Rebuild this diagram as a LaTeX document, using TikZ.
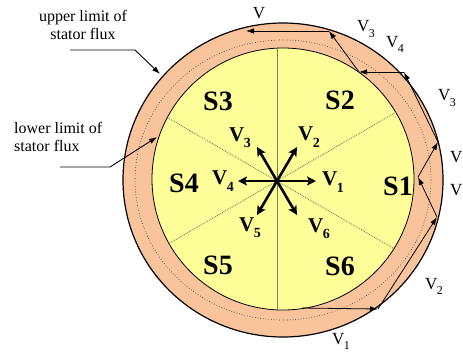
\documentclass[tikz,border=0pt]{standalone}
\usepackage{fontspec}
\setmainfont{Liberation Serif}
\usetikzlibrary{arrows.meta}
\definecolor{band}{RGB}{249,196,155}
\definecolor{disk}{RGB}{255,255,153}
\definecolor{sect}{RGB}{125,125,95}
\newcommand\VO[1]{V\kern-0.3pt\raisebox{-0.3em}{\fontsize{12}{12}\selectfont #1}}
\newcommand\VC[1]{V\kern-0.3pt\raisebox{-0.3em}{\fontsize{14}{14}\selectfont\bfseries #1}}
\tikzset{
  vec/.style={line width=2.6pt, -{Stealth[length=9pt,width=9pt,inset=2pt]}},
  traj/.style={line width=0.8pt, -{Latex[length=8pt,width=5.5pt]}},
  note/.style={line width=0.9pt, -{Latex[length=8pt,width=5.5pt]}},
  seclab/.style={font=\fontsize{28}{28}\selectfont\bfseries, inner sep=0pt},
  veclab/.style={font=\fontsize{21}{21}\selectfont\bfseries, inner sep=0pt},
  outlab/.style={font=\fontsize{17}{17}\selectfont, inner sep=0pt},
  annot/.style={font=\fontsize{16}{18}\selectfont, inner sep=0pt},
}
\begin{document}
\begin{tikzpicture}[x=1pt,y=-1pt]
\useasboundingbox (0,0) rectangle (463,351);
% rings
\filldraw[fill=band, draw=black, line width=1.2pt] (283,180) ellipse [x radius=160, y radius=157];
\draw[dotted, line width=0.7pt, black!70] (283,180) ellipse [x radius=148, y radius=140];
\filldraw[fill=disk, draw=black, line width=0.8pt] (283,179) circle [radius=131];
% sectors
\coordinate (O) at (277,181);
\begin{scope}
\clip (283,179) circle [radius=131];
\draw[sect, line width=0.7pt] (277,40) -- (277,320);
\draw[sect, densely dotted, line width=0.9pt] (O) -- (450,81);
\draw[sect, densely dotted, line width=0.9pt] (O) -- (450,281);
\draw[sect, densely dotted, line width=0.9pt] (O) -- (104,81);
\draw[sect, densely dotted, line width=0.9pt] (O) -- (104,281);
\end{scope}
% voltage vectors
\coordinate (t1) at (316,181);
\coordinate (t2) at (297,147);
\coordinate (t3) at (257,147);
\coordinate (t4) at (238,181);
\coordinate (t5) at (257,215);
\coordinate (t6) at (297,215);
\foreach \t in {t1,t2,t3,t4,t5,t6} \draw[vec] (O) -- (\t);
\node[veclab] (v1) at (333,182) {\VC{1}};
\node[veclab] (v2) at (309,137) {\VC{2}};
\node[veclab] (v3) at (240,138) {\VC{3}};
\node[veclab] (v4) at (223,181) {\VC{4}};
\node[veclab] (v5) at (250,228) {\VC{5}};
\node[veclab] (v6) at (319,229) {\VC{6}};
% sector labels
\node[seclab] (s1) at (398,186) {S1};
\node[seclab] (s2) at (340,100) {S2};
\node[seclab] (s3) at (218,101) {S3};
\node[seclab] (s4) at (184,183) {S4};
\node[seclab] (s5) at (218,265) {S5};
\node[seclab] (s6) at (340,266) {S6};
% trajectory
\coordinate (p0) at (302,308);
\coordinate (p1) at (378,309);
\coordinate (p2) at (437,217);
\coordinate (p3) at (418,177);
\coordinate (p4) at (438,142);
\coordinate (p5) at (404,72);
\coordinate (p6) at (359,72);
\coordinate (p7) at (329,31);
\coordinate (p8) at (246,31);
\draw[traj] (p0) -- (p1);
\draw[traj] (p1) -- (p2);
\draw[traj] (p2) -- (p3);
\draw[traj] (p3) -- (p4);
\draw[traj] (p4) -- (p5);
\draw[traj] (p5) -- (p6);
\draw[traj] (p6) -- (p7);
\draw[traj] (p7) -- (p8);
% trajectory labels
\node[outlab] (l8) at (259,13) {V};
\node[outlab] (l7) at (366,29) {\VO{3}};
\node[outlab] (l6) at (395,44) {\VO{4}};
\node[outlab] (l5) at (447,98) {\VO{3}};
\node[outlab, anchor=west] (l4) at (450,157) {V};
\node[outlab, anchor=west] (l3) at (450,190) {V};
\node[outlab] (l2) at (434,286) {\VO{2}};
\node[outlab] (l1) at (341,341) {\VO{1}};
% annotations
\node[annot, align=center] (up) at (83,25) {upper limit of\\stator flux};
\coordinate (u1) at (70,50);
\coordinate (u2) at (135,50);
\coordinate (u3) at (160,74);
\draw[note] (u1) -- (u2) -- (u3);
\node[annot, align=left, anchor=west] (lo) at (14,137) {lower limit of\\stator flux};
\coordinate (w1) at (60,167);
\coordinate (w2) at (110,167);
\coordinate (w3) at (157,137);
\draw[note] (w1) -- (w2) -- (w3);
\end{tikzpicture}
\end{document}
